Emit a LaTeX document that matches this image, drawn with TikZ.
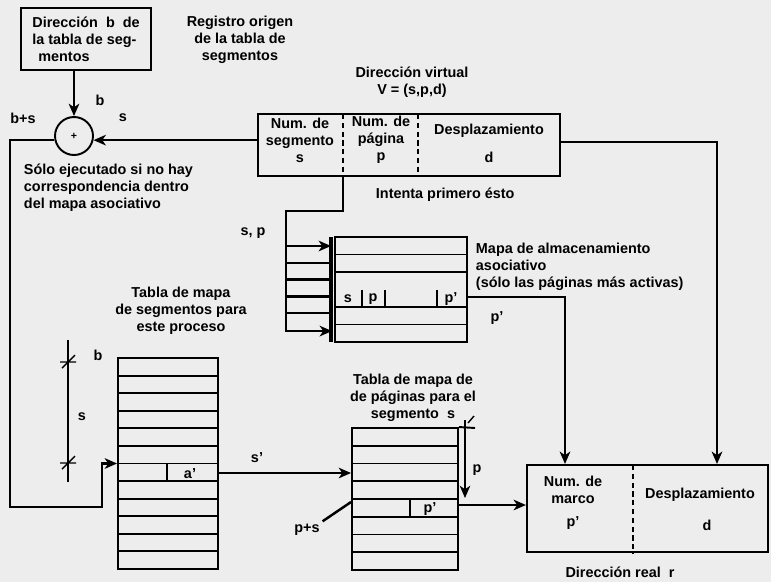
\documentclass[tikz,border=0pt]{standalone}
\usepackage{fontspec}
\setmainfont{Liberation Sans}
\usetikzlibrary{arrows.meta,positioning}

\begin{document}
\begin{tikzpicture}[
    x=0.2mm, y=-0.2mm,
    line width=1.4pt,
    >={Stealth[length=7pt,width=6pt,inset=2pt]},
    font=\fontsize{8.2}{9.7}\selectfont\bfseries,
    caja/.style={draw, rectangle, inner sep=0pt, line width=1.2pt},
    tabla/.style={draw, rectangle, inner sep=0pt, line width=1.1pt},
    etiq/.style={inner sep=1pt, align=center},
    celda/.style={inner sep=0pt, align=center},
    divis/.style={line width=0.6pt, densely dashed},
    fila/.style={line width=1.1pt}
]
    % Fondo
    \fill[black!7] (0,0) rectangle (771,582);
    % Registro origen y sumador
    \node[caja, align=left, minimum width=26mm, minimum height=12.4mm] (dirb) at (86,39)
        {Dirección\ \ b\ \ de\\la tabla de seg-\\\hspace{1.2mm}mentos};
    \node[etiq] (regtxt) at (240,40) {Registro origen\\de la tabla de\\segmentos};
    \node[draw, circle, minimum size=7.6mm, inner sep=0pt, line width=1.1pt] (suma) at (74,136)
        {\fontsize{6}{6}\selectfont +};
    \node[etiq] (lb) at (100,100) {b};
    \node[etiq] (ls) at (123,118) {s};
    \node[etiq] (lbs) at (23,118) {b+s};
    \node[etiq, align=left, anchor=west] (solo) at (21,188)
        {Sólo ejecutado si no hay\\correspondencia dentro\\del mapa asociativo};
    % Dirección virtual
    \node[etiq] (vtxt) at (412,82) {Dirección virtual\\V = (s,p,d)};
    \node[caja, minimum width=60.4mm, minimum height=12.4mm] (vdir) at (409,145) {};
    \coordinate (sep1) at (343,114);
    \coordinate (sep2) at (418,114);
    \draw[divis] (sep1) -- (sep1 |- vdir.south);
    \draw[divis] (sep2) -- (sep2 |- vdir.south);
    \node[celda] (vseg) at (300,140) {Num. de\\segmento\\s};
    \node[celda] (vpag) at (381,140) {Num. de\\página\\p};
    \node[celda] (vdesp) at (489,131) {Desplazamiento};
    \node[celda] (vd) at (489,157) {d};
    \node[etiq, anchor=west] (intenta) at (373,195) {Intenta primero ésto};
    % Mapa asociativo
    \node[tabla, minimum width=26.4mm, minimum height=21mm] (asoc) at (401,289.5) {};
    \foreach \k in {1,2,4,5}
        \draw[fila] (335,{237+\k*17.5}) -- (467,{237+\k*17.5});
    \foreach \xx in {362,385,437}
        \draw[line width=0.8pt] (\xx,289.5) -- (\xx,307);
    \node[celda] (as) at (348,299) {s};
    \node[celda] (ap) at (373,299) {p};
    \node[celda] (app) at (451,299) {p'};
    \node[etiq, align=left, anchor=west] (mapatxt) at (473,267)
        {Mapa de almacenamiento\\asociativo\\(sólo las páginas más activas)};
    \node[etiq] (lsp) at (253,233) {s, p};
    \node[etiq] (lpa) at (497,318) {p'};
    % Entrada en paralelo al mapa asociativo
    \draw[line width=1.8pt] (331,237) -- (331,342);
    \draw[->] (sep1 |- vdir.south) -- ++(0,34) -- ++(-57,0) -- ++(0,120) -- ++(46,0);
    \draw[->] (285,246) -- (331,246);
    \foreach \k in {1,...,4}
        \draw (285,{246+\k*16.8}) -- (331,{246+\k*16.8});
    % Tabla de segmentos
    \node[etiq] (segtxt) at (181,311) {Tabla de mapa\\de segmentos para\\este proceso};
    \node[tabla, minimum width=20mm, minimum height=42.2mm] (segtab) at (168,463.5) {};
    \foreach \k in {1,...,11}
        \draw[fila] (118,{358+\k*17.58}) -- (218,{358+\k*17.58});
    \draw[fila] (167,463.5) -- (167,481);
    \node[celda] (sa) at (190,474) {a'};
    % Desplazamientos b y s
    \draw[line width=0.8pt] (68,340) -- (68,482);
    \draw[line width=0.8pt] (60,362) -- (76,362) (62,368) -- (75,355);
    \draw[line width=0.8pt] (60,463) -- (76,463) (62,469) -- (75,456);
    \node[etiq] (lb2) at (98,355) {b};
    \node[etiq] (ls2) at (82,417) {s};
    % Tabla de páginas
    \node[etiq] (pagtxt) at (413,398) {Tabla de mapa de\\de páginas para el\\segmento\ \ s};
    \node[tabla, minimum width=21.2mm, minimum height=28.4mm] (pagtab) at (405,499) {};
    \foreach \k in {1,...,7}
        \draw[fila] (352,{428+\k*17.75}) -- (458,{428+\k*17.75});
    \draw[fila] (410,499) -- (410,516.75);
    \node[celda] (pp) at (430,509) {p'};
    \draw[fila] (pagtab.north east) -- (475,428);
    \draw[->, line width=0.8pt] (465,420) -- (465,498);
    \draw[line width=0.8pt] (468,423) -- (474,416);
    \node[etiq] (lp) at (477,470) {p};
    % Dirección real
    \node[caja, minimum width=48.2mm, minimum height=17.4mm] (real) at (647.5,508.5) {};
    \coordinate (sep3) at (633,465);
    \draw[divis] (sep3) -- (sep3 |- real.south);
    \node[celda] (rnum) at (573,490) {Num. de\\marco};
    \node[celda] (rp) at (573,523) {p'};
    \node[celda] (rdesp) at (700,495) {Desplazamiento};
    \node[celda] (rd) at (707,525) {d};
    \node[etiq] (rtxt) at (620,572) {Dirección real\ \ r};
    % Conexiones
    \coordinate (esqA) at (10,507);
    \coordinate (esqB) at (102,507);
    \coordinate (salp) at (565,297);
    \coordinate (derecha) at (717,142);
    \draw[->] (suma.north |- dirb.south) -- (suma.north);
    \draw[->] (vdir.west |- suma.-12) -- (suma.-12);
    \draw[->] (suma.192) -| (esqA) -- (esqB) |- (segtab.west |- 0,463.5);
    \draw[->] (asoc.east |- salp) -- (salp) -- (salp |- real.north);
    \draw[->] (vdir.east |- derecha) -- (derecha) -- (derecha |- real.north);
    \draw[->] (segtab.east |- 0,473) -- (pagtab.west |- 0,473);
    \node[etiq] (lsa) at (257,458) {s'};
    \node[etiq] (lps) at (307,530) {p+s};
    \draw (lps.north east) -- (pagtab.west |- 0,502);
    \draw[->] (pagtab.east |- 0,505) -- (real.west |- 0,505);
\end{tikzpicture}
\end{document}
